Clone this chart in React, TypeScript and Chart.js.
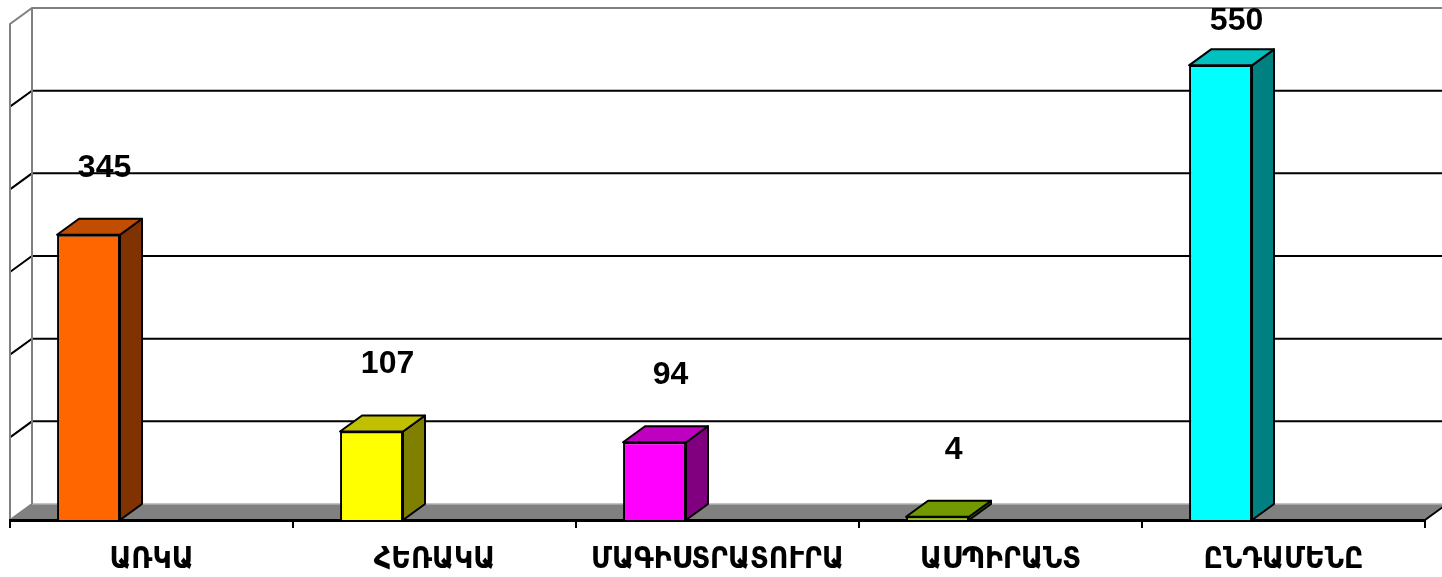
import React, { useEffect, useRef } from "react";
import { Chart, registerables } from "chart.js";
Chart.register(...registerables);

const categories = ["ԱՌԿԱ", "ՀԵՌԱԿԱ", "ՄԱԳԻՍՏՐԱՏՈՒՐԱ", "ԱՍՊԻՐԱՆՏ", "ԸՆԴԱՄԵՆԸ"];
const values = [345, 107, 94, 4, 550];
const frontColors = ["#FF6600", "#FFFF00", "#FF00FF", "#99CC00", "#00FFFF"];
const sideColors = ["#803300", "#808000", "#800080", "#4D6600", "#008080"];
const topColors = ["#C04D00", "#C0C000", "#C000C0", "#739900", "#00C0C0"];
const gridValues = [100, 200, 300, 400, 500];
const yMax = 600;

const DX = 22;
const DY = -16;

const bar3d = {
  id: "bar3d",
  beforeDraw(chart: any) {
    const { ctx, chartArea } = chart;
    const y = chart.scales.y;
    const { left, right, bottom } = chartArea;
    const W = chart.width;
    ctx.save();
    // floor
    ctx.fillStyle = "#808080";
    ctx.beginPath();
    ctx.moveTo(left, bottom);
    ctx.lineTo(left + DX, bottom + DY);
    ctx.lineTo(right + DX, bottom + DY);
    ctx.lineTo(right, bottom);
    ctx.closePath();
    ctx.fill();
    ctx.strokeStyle = "#B0B0B0";
    ctx.lineWidth = 1.5;
    ctx.beginPath();
    ctx.moveTo(left + DX, bottom + DY);
    ctx.lineTo(W, bottom + DY);
    ctx.stroke();
    // gridlines on back wall and side wall
    ctx.strokeStyle = "#000";
    ctx.lineWidth = 2;
    gridValues.forEach((v) => {
      const py = y.getPixelForValue(v);
      ctx.beginPath();
      ctx.moveTo(left, py);
      ctx.lineTo(left + DX, py + DY);
      ctx.lineTo(W, py + DY);
      ctx.stroke();
    });
    // wall frame
    const pt = y.getPixelForValue(yMax);
    ctx.strokeStyle = "#808080";
    ctx.lineWidth = 2;
    ctx.beginPath();
    ctx.moveTo(left, bottom);
    ctx.lineTo(left, pt);
    ctx.lineTo(left + DX, pt + DY);
    ctx.lineTo(W, pt + DY);
    ctx.moveTo(left + DX, pt + DY);
    ctx.lineTo(left + DX, bottom + DY);
    ctx.moveTo(left, bottom);
    ctx.lineTo(left + DX, bottom + DY);
    ctx.stroke();
    // right floor edge
    ctx.strokeStyle = "#000";
    ctx.beginPath();
    ctx.moveTo(right, bottom);
    ctx.lineTo(right + DX, bottom + DY);
    ctx.stroke();
    ctx.restore();
  },
  afterDatasetsDraw(chart: any) {
    const { ctx } = chart;
    const meta = chart.getDatasetMeta(0);
    ctx.save();
    ctx.lineWidth = 2;
    ctx.lineJoin = "round";
    ctx.strokeStyle = "#000";
    meta.data.forEach((el: any, i: number) => {
      const { x, y, base, width } = el.getProps(["x", "y", "base", "width"], true);
      const l = x - width / 2;
      const r = x + width / 2;
      // side
      ctx.fillStyle = sideColors[i];
      ctx.beginPath();
      ctx.moveTo(r, y);
      ctx.lineTo(r + DX, y + DY);
      ctx.lineTo(r + DX, base + DY);
      ctx.lineTo(r, base);
      ctx.closePath();
      ctx.fill();
      ctx.stroke();
      // top
      ctx.fillStyle = topColors[i];
      ctx.beginPath();
      ctx.moveTo(l, y);
      ctx.lineTo(l + DX, y + DY);
      ctx.lineTo(r + DX, y + DY);
      ctx.lineTo(r, y);
      ctx.closePath();
      ctx.fill();
      ctx.stroke();
      // label
      ctx.fillStyle = "#000";
      ctx.font = "bold 32px 'Liberation Sans', Arial, sans-serif";
      ctx.textAlign = "center";
      ctx.textBaseline = "middle";
      const ly = Math.max(21, y - 67);
      ctx.fillText(String(values[i]), x + 16, ly);
    });
    ctx.restore();
  },
};

export default function App() {
  const ref = useRef<HTMLCanvasElement>(null);
  useEffect(() => {
    if (!ref.current) return;
    const chart = new Chart(ref.current, {
      type: "bar",
      data: {
        labels: categories,
        datasets: [
          {
            data: values,
            backgroundColor: frontColors,
            borderColor: "#000",
            borderWidth: 2,
            barPercentage: 0.5,
            categoryPercentage: 0.89,
          },
          {
            data: categories.map(() => null),
            barPercentage: 0.5,
            categoryPercentage: 0.89,
          },
        ],
      },
      options: {
        responsive: false,
        animation: false,
        layout: { padding: { left: 10, right: 17, top: 24, bottom: 0 } },
        plugins: { legend: { display: false }, tooltip: { enabled: false } },
        scales: {
          x: {
            grid: {
              display: true,
              drawOnChartArea: false,
              drawTicks: true,
              tickLength: 8,
              color: "#000",
              lineWidth: 2,
              offset: true,
            },
            border: { display: true, color: "#000", width: 3 },
            ticks: {
              color: "#000",
              padding: 14,
              maxRotation: 0,
              font: { family: "'DejaVu Sans Condensed', 'DejaVu Sans', sans-serif", size: 30, weight: "bold" },
            },
            afterFit: (s: any) => {
              s.height = 57;
            },
          },
          y: { display: false, min: 0, max: yMax },
        },
      },
      plugins: [bar3d],
    });
    return () => chart.destroy();
  }, []);
  return (
    <div style={{ position: "absolute", left: 0, top: 0, width: 1442, height: 577, background: "#fff" }}>
      <canvas ref={ref} width={1442} height={577} style={{ display: "block" }} />
    </div>
  );
}
